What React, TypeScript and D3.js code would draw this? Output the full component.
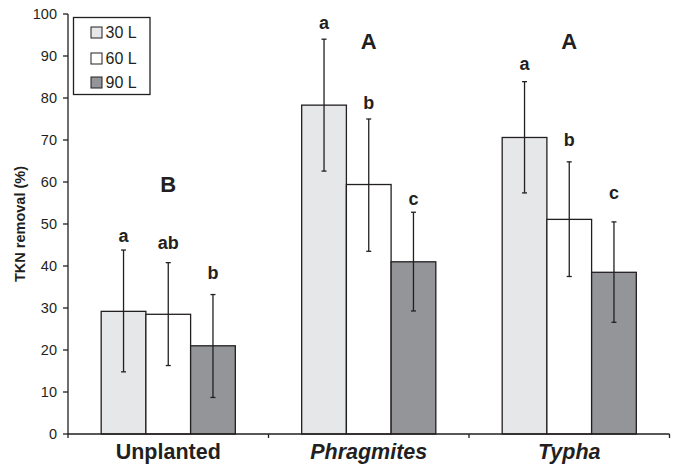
import React, { useRef, useEffect } from 'react';
import * as d3 from 'd3';

// groups and series
const categories = ['Unplanted', 'Phragmites', 'Typha'];
const italicCats = ['Phragmites', 'Typha'];
const series = ['30 L', '60 L', '90 L'];
const seriesColors = ['#e6e7e8', '#ffffff', '#939598'];

// mean TKN removal (%) per series, one entry per category
const values30 = [29.2, 78.3, 70.6];
const values60 = [28.5, 59.4, 51.1];
const values90 = [21.0, 41.0, 38.5];

// error bar extents
const errHigh30 = [43.8, 94.0, 83.9];
const errLow30 = [14.8, 62.6, 57.4];
const errHigh60 = [40.8, 75.0, 64.8];
const errLow60 = [16.3, 43.5, 37.5];
const errHigh90 = [33.2, 52.8, 50.5];
const errLow90 = [8.7, 29.3, 26.6];

// significance letters over bars, and their baseline in axis units
const letters30 = ['a', 'a', 'a'];
const letters60 = ['ab', 'b', 'b'];
const letters90 = ['b', 'c', 'c'];
const letterY30 = [45.8, 96.4, 86.7];
const letterY60 = [44.0, 77.3, 68.6];
const letterY90 = [36.8, 54.6, 55.9];

// group letters
const groupLetters = ['B', 'A', 'A'];
const groupLetterY = [57.7, 91.6, 91.6];

const yTicks = [0, 10, 20, 30, 40, 50, 60, 70, 80, 90, 100];

const W = 673;
const H = 464;
const INK = '#231f20';
const FONT = 'Arial, "Liberation Sans", Helvetica, sans-serif';

const App: React.FC = () => {
  const svgRef = useRef<SVGSVGElement | null>(null);

  useEffect(() => {
    if (!svgRef.current) return;
    const svg = d3.select(svgRef.current);
    svg.selectAll('*').remove();

    const x0 = 68;
    const x1 = 669.5;
    const yBottom = 434;
    const yTop = 14;

    const xScale = d3.scaleBand().domain(categories).range([x0, x1]).paddingInner(0).paddingOuter(0);
    const xInner = d3.scaleBand().domain(series).range([0, xScale.bandwidth()]).paddingInner(0).paddingOuter(0.742);
    const yScale = d3.scaleLinear().domain([0, 100]).range([yBottom, yTop]);

    const means = [values30, values60, values90];
    const highs = [errHigh30, errHigh60, errHigh90];
    const lows = [errLow30, errLow60, errLow90];
    const lets = [letters30, letters60, letters90];
    const letYs = [letterY30, letterY60, letterY90];

    const rows = categories.flatMap((c, ci) =>
      series.map((s, si) => ({
        cat: c,
        s,
        si,
        v: means[si][ci],
        hi: highs[si][ci],
        lo: lows[si][ci],
        letter: lets[si][ci],
        ly: letYs[si][ci],
      }))
    );

    // bars
    svg.append('g')
      .selectAll('rect')
      .data(rows)
      .enter()
      .append('rect')
      .attr('x', d => xScale(d.cat)! + xInner(d.s)!)
      .attr('y', d => yScale(d.v))
      .attr('width', xInner.bandwidth())
      .attr('height', d => yBottom - yScale(d.v))
      .attr('fill', d => seriesColors[d.si])
      .attr('stroke', INK)
      .attr('stroke-width', 1.3);

    // error bars
    const eb = svg.append('g').attr('stroke', INK).attr('stroke-width', 1.3);
    rows.forEach(d => {
      const cx = xScale(d.cat)! + xInner(d.s)! + xInner.bandwidth() / 2;
      eb.append('line').attr('x1', cx).attr('x2', cx).attr('y1', yScale(d.hi)).attr('y2', yScale(d.lo));
      eb.append('line').attr('x1', cx - 2.5).attr('x2', cx + 2.5).attr('y1', yScale(d.hi)).attr('y2', yScale(d.hi));
      eb.append('line').attr('x1', cx - 2.5).attr('x2', cx + 2.5).attr('y1', yScale(d.lo)).attr('y2', yScale(d.lo));
    });

    // bar letters
    svg.append('g')
      .selectAll('text')
      .data(rows)
      .enter()
      .append('text')
      .attr('x', d => xScale(d.cat)! + xInner(d.s)! + xInner.bandwidth() / 2)
      .attr('y', d => yScale(d.ly))
      .attr('text-anchor', 'middle')
      .attr('font-family', FONT)
      .attr('font-weight', 'bold')
      .attr('font-size', 18)
      .attr('fill', INK)
      .text(d => d.letter);

    // group letters
    svg.append('g')
      .selectAll('text')
      .data(categories)
      .enter()
      .append('text')
      .attr('x', d => xScale(d)! + xScale.bandwidth() / 2)
      .attr('y', (_d, i) => yScale(groupLetterY[i]))
      .attr('text-anchor', 'middle')
      .attr('font-family', FONT)
      .attr('font-weight', 'bold')
      .attr('font-size', 22)
      .attr('fill', INK)
      .text((_d, i) => groupLetters[i]);

    // y axis
    const yAxis = svg.append('g');
    yAxis.append('line')
      .attr('x1', x0).attr('x2', x0)
      .attr('y1', yTop).attr('y2', yBottom)
      .attr('stroke', INK).attr('stroke-width', 1.3);
    yTicks.forEach(t => {
      yAxis.append('line')
        .attr('x1', x0 - 5).attr('x2', x0)
        .attr('y1', yScale(t)).attr('y2', yScale(t))
        .attr('stroke', INK).attr('stroke-width', 1.3);
      yAxis.append('text')
        .attr('x', x0 - 11)
        .attr('y', yScale(t))
        .attr('dy', '0.35em')
        .attr('text-anchor', 'end')
        .attr('font-family', FONT)
        .attr('font-size', 14.5)
        .attr('fill', INK)
        .text(String(t));
    });
    yAxis.append('text')
      .attr('transform', `translate(25, ${(yTop + yBottom) / 2}) rotate(-90)`)
      .attr('text-anchor', 'middle')
      .attr('font-family', FONT)
      .attr('font-weight', 'bold')
      .attr('font-size', 14.5)
      .attr('fill', INK)
      .text('TKN removal (%)');

    // x axis
    const xAxis = svg.append('g');
    xAxis.append('line')
      .attr('x1', x0).attr('x2', x1)
      .attr('y1', yBottom).attr('y2', yBottom)
      .attr('stroke', INK).attr('stroke-width', 1.3);
    const bounds = [...categories.map(c => xScale(c)!), x1];
    bounds.forEach(b => {
      xAxis.append('line')
        .attr('x1', b).attr('x2', b)
        .attr('y1', yBottom).attr('y2', yBottom + 4)
        .attr('stroke', INK).attr('stroke-width', 1.3);
    });
    xAxis.selectAll('text.cat')
      .data(categories)
      .enter()
      .append('text')
      .attr('class', 'cat')
      .attr('x', d => xScale(d)! + xScale.bandwidth() / 2)
      .attr('y', 459)
      .attr('text-anchor', 'middle')
      .attr('font-family', FONT)
      .attr('font-weight', 'bold')
      .attr('font-style', d => (italicCats.includes(d) ? 'italic' : 'normal'))
      .attr('font-size', 21.5)
      .attr('fill', INK)
      .text(d => d);

    // legend
    const lg = svg.append('g');
    lg.append('rect')
      .attr('x', 73.5).attr('y', 17.5)
      .attr('width', 76.5).attr('height', 77)
      .attr('fill', '#fff')
      .attr('stroke', INK).attr('stroke-width', 1.3);
    const legendRows = [32.5, 58.5, 82.5];
    series.forEach((s, i) => {
      lg.append('rect')
        .attr('x', 91).attr('y', legendRows[i] - 5.5)
        .attr('width', 11).attr('height', 11)
        .attr('fill', seriesColors[i])
        .attr('stroke', INK).attr('stroke-width', 1);
      lg.append('text')
        .attr('x', 105.5)
        .attr('y', legendRows[i])
        .attr('dy', '0.36em')
        .attr('font-family', FONT)
        .attr('font-size', 16)
        .attr('fill', INK)
        .text(s);
    });
  }, []);

  return (
    <svg
      ref={svgRef}
      width={W}
      height={H}
      style={{ position: 'absolute', left: 0, top: 0, background: '#fff' }}
    />
  );
};

export default App;
